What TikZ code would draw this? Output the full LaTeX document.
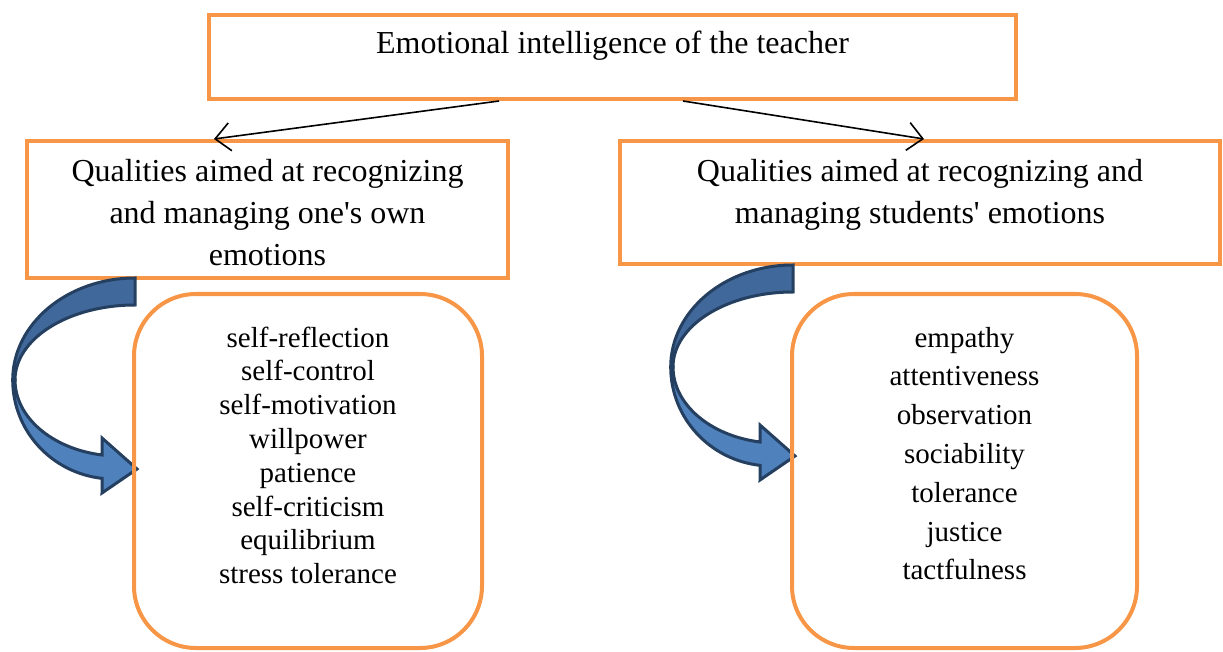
\documentclass[tikz,border=0pt]{standalone}
\usepackage{fontspec}
\setmainfont{Liberation Serif}
\usetikzlibrary{arrows.meta}
\definecolor{eiorange}{HTML}{F79646}
\definecolor{eiblue}{HTML}{4F81BD}
\definecolor{eibluedark}{HTML}{41689B}
\definecolor{eiedge}{HTML}{243F60}
% centred lines whose baseline is the first line's baseline
\newcommand\linesc[1]{\begin{tabular}[t]{@{}c@{}}#1\end{tabular}}
% curved block arrow, tail at the upper right, head at the lower right
\newcommand\curvedblockarrow[1]{%
  \begin{scope}[shift={(#1)}]
    \filldraw[blockarrow, fill=eiblue]
      (12.7,380) arc[start angle=180, end angle=96.4, x radius=100.7, y radius=99]
      -- (102,493) -- (137,469) -- (102,438) -- (102,455)
      arc[start angle=99.9, end angle=180, x radius=105, y radius=76] -- cycle;
    \filldraw[blockarrow, fill=eibluedark]
      (135,278) arc[start angle=270, end angle=180, x radius=122.3, y radius=102]
      -- (15,380)
      arc[start angle=180, end angle=270, x radius=120, y radius=75] -- cycle;
  \end{scope}}
\begin{document}
\begin{tikzpicture}[x=1pt,y=-1pt,
  framebox/.style={draw=eiorange, line width=4pt, inner sep=0pt},
  headtext/.style={anchor=base, inner sep=0pt, font=\fontsize{32}{42}\selectfont},
  listleft/.style={anchor=base, inner sep=0pt, font=\fontsize{29}{33.8}\selectfont},
  listright/.style={anchor=base, inner sep=0pt, font=\fontsize{29}{38.8}\selectfont},
  conn/.style={draw=black, line width=1.6pt, -{Straight Barb[length=15pt,width=28pt]}},
  blockarrow/.style={draw=eiedge, line width=3pt, line join=miter}]
\useasboundingbox (0,0) rectangle (1223,652);

% header boxes
\node[framebox, minimum width=807pt, minimum height=84pt] (top) at (612.5,57) {};
\node[headtext] (toptext) at (612.5,54) {Emotional intelligence of the teacher};
\node[framebox, minimum width=481pt, minimum height=137pt] (lq) at (267.5,209.5) {};
\node[headtext] (lqtext) at (267.5,181.5)
  {\linesc{Qualities aimed at recognizing\\and managing one\textquotesingle s own\\emotions}};
\node[framebox, minimum width=600pt, minimum height=123pt] (rq) at (920,202.5) {};
\node[headtext] (rqtext) at (920,181.5)
  {\linesc{Qualities aimed at recognizing and\\managing students\textquotesingle\ emotions}};

% links from the top box
\draw[conn] ([xshift=-113.5pt]top.south) -- ([xshift=-53.5pt]lq.north);
\draw[conn] ([xshift=70.5pt]top.south) -- ([xshift=4pt]rq.north);

% curved block arrows
\curvedblockarrow{0,0}
\curvedblockarrow{658,-13}

% lists of qualities
\node[framebox, rounded corners=62pt, minimum width=348pt, minimum height=354pt] (ll) at (308,471) {};
\node[listleft] (lltext) at (308,347)
  {\linesc{self-reflection\\self-control\\self-motivation\\willpower\\patience\\self-criticism\\equilibrium\\stress tolerance}};
\node[framebox, rounded corners=62pt, minimum width=345pt, minimum height=354pt] (rl) at (964.5,471) {};
\node[listright] (rltext) at (964.5,347)
  {\linesc{empathy\\attentiveness\\observation\\sociability\\tolerance\\justice\\tactfulness}};
\end{tikzpicture}
\end{document}
